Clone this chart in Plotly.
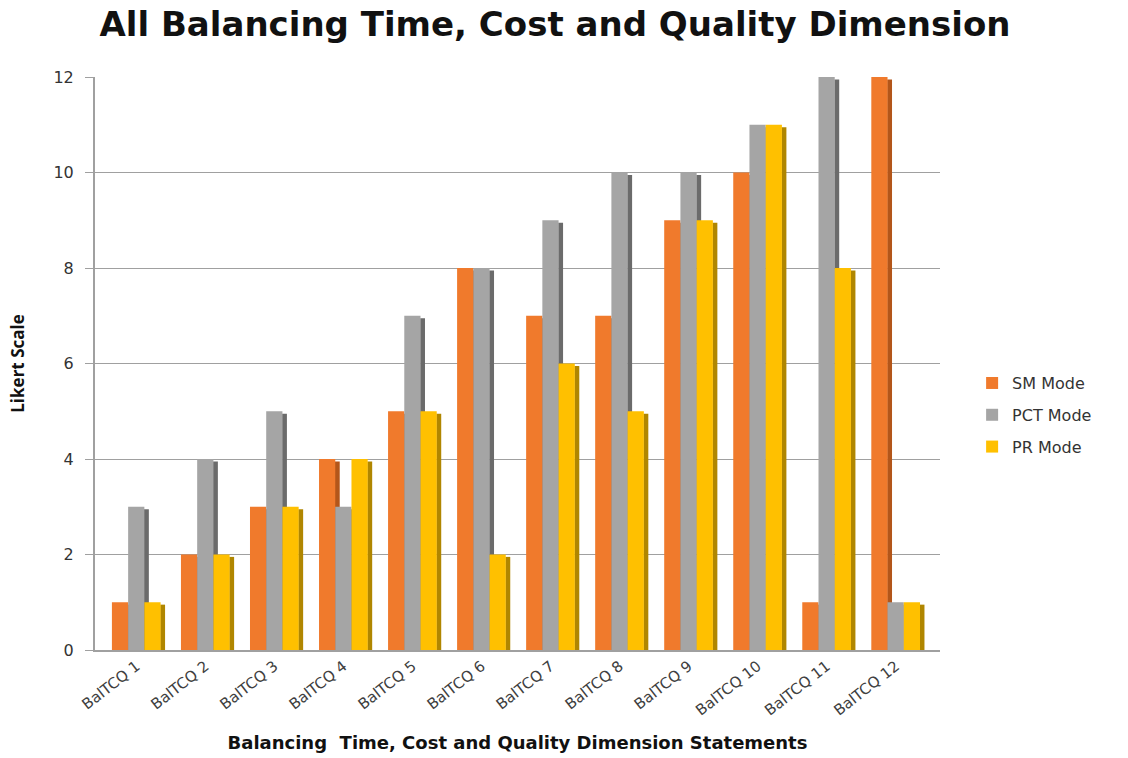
import plotly.graph_objects as go

categories = ["BalTCQ 1", "BalTCQ 2", "BalTCQ 3", "BalTCQ 4", "BalTCQ 5", "BalTCQ 6",
              "BalTCQ 7", "BalTCQ 8", "BalTCQ 9", "BalTCQ 10", "BalTCQ 11", "BalTCQ 12"]
sm_mode = [1, 2, 3, 4, 5, 8, 7, 7, 9, 10, 1, 12]
pct_mode = [3, 4, 5, 3, 7, 8, 9, 10, 10, 11, 12, 1]
pr_mode = [1, 2, 3, 4, 5, 2, 6, 5, 9, 11, 8, 1]

series = [
    ("SM Mode", sm_mode, "#F07A2C", "#B3561A"),
    ("PCT Mode", pct_mode, "#A5A5A5", "#6B6B6B"),
    ("PR Mode", pr_mode, "#FFC000", "#B08600"),
]

bar_w = 0.235
side_w = 0.07
start = -0.355
x_idx = list(range(len(categories)))

fig = go.Figure()

# darker right-hand faces drawn first so neighbouring fronts cover them
for i, (name, vals, col, dark) in enumerate(series):
    off = start + i * bar_w + bar_w - 0.005
    fig.add_trace(go.Bar(
        x=x_idx, y=[v - 0.05 for v in vals], offset=off, width=side_w,
        marker=dict(color=dark, line=dict(width=0)),
        showlegend=False, hoverinfo="skip"))

for i, (name, vals, col, dark) in enumerate(series):
    off = start + i * bar_w
    fig.add_trace(go.Bar(
        x=x_idx, y=vals, offset=off, width=bar_w, name=name,
        legendgroup=name,
        marker=dict(color=col, line=dict(width=0))))

fig.update_layout(
    width=1128, height=758,
    barmode="overlay",
    paper_bgcolor="white", plot_bgcolor="white",
    margin=dict(l=95, r=188, t=77, b=108),
    title=dict(text="<b>All Balancing Time, Cost and Quality Dimension</b>",
               x=0.492, xanchor="center", y=0.968, yanchor="middle",
               font=dict(family="DejaVu Sans", size=34, color="#111111")),
    legend=dict(x=1.038, y=0.41, xanchor="left", yanchor="middle",
                traceorder="grouped", tracegroupgap=8,
                font=dict(family="DejaVu Sans", size=16, color="#333333"),
                itemwidth=30),
    xaxis=dict(
        range=[-0.6, 11.64], automargin=False,
        tickmode="array", tickvals=x_idx, ticktext=categories,
        tickangle=-38, showgrid=False,
        showline=True, linecolor="#A0A0A0", linewidth=1.5,
        ticks="", tickfont=dict(family="DejaVu Sans", size=15, color="#404040"),
        title=dict(text="<b>Balancing  Time, Cost and Quality Dimension Statements</b>",
                   font=dict(family="DejaVu Sans", size=18, color="#111111"),
                   standoff=18),
    ),
    yaxis=dict(
        range=[0, 12], tickvals=[0, 2, 4, 6, 8, 10, 12], automargin=False,
        showgrid=True, gridcolor="#A0A0A0", gridwidth=1,
        showline=True, linecolor="#A0A0A0", linewidth=2,
        ticks="outside", ticklen=8, tickcolor="#A0A0A0",
        ticklabelstandoff=8,
        tickfont=dict(family="DejaVu Sans", size=16, color="#333333"),
        zeroline=False,
        title=dict(text="<b>Likert Scale</b>",
                   font=dict(family="Open Sans", size=17, color="#111111"),
                   standoff=24),
    ),
)

fig.write_html("out.html")
